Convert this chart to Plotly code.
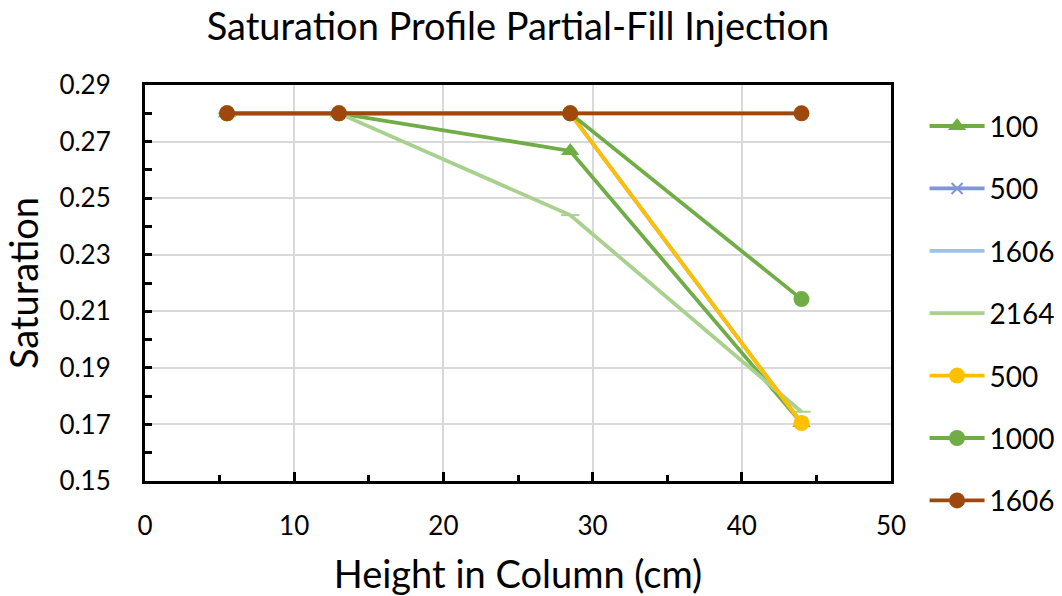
import plotly.graph_objects as go

heights = [5.5, 13, 28.5, 44]

series_names = ["100", "500", "1606", "2164", "500", "1000", "1606"]
s100 = [0.28, 0.28, 0.2667, 0.1705]
s500a = [0.28, 0.28, 0.28, 0.1705]
s1606a = [0.28, 0.28, 0.28, 0.28]
s2164 = [0.28, 0.28, 0.244, 0.1745]
s500b = [0.28, 0.28, 0.28, 0.1705]
s1000 = [0.28, 0.28, 0.28, 0.2143]
s1606b = [0.28, 0.28, 0.28, 0.28]

series_values = [s100, s500a, s1606a, s2164, s500b, s1000, s1606b]
colors = ["#70AD47", "#7F96D6", "#9DC3E6", "#A9D18E", "#FFC000", "#70AD47", "#9E480E"]
symbols = ["triangle-up", "x-thin", None, "line-ew", "circle", "circle", "circle"]
msizes = [16, 11, 0, 13, 16, 16, 16]

FONT = "Lato"

fig = go.Figure()
for i, (name, vals) in enumerate(zip(series_names, series_values)):
    sym = symbols[i]
    if sym is None:
        mode = "lines"
        marker = dict()
    else:
        mode = "lines+markers"
        marker = dict(symbol=sym, size=msizes[i], color=colors[i],
                      line=dict(color=colors[i], width=2 if sym in ("x-thin", "line-ew") else 0))
    fig.add_trace(go.Scatter(
        x=heights, y=vals, name=name, mode=mode,
        line=dict(color=colors[i], width=3.8),
        marker=marker,
        legendgroup="g%d" % i,
    ))

fig.update_layout(
    width=1062, height=596,
    margin=dict(l=145, r=171, t=85, b=115, autoexpand=False),
    paper_bgcolor="white", plot_bgcolor="white",
    font=dict(family=FONT, color="black", size=26),
    title=dict(text="Saturation Profile Partial-Fill Injection",
               x=0.5, xanchor="center", xref="paper",
               y=0.955, yanchor="middle", yref="container",
               font=dict(size=38, family=FONT, color="black")),
    legend=dict(x=1.045, xanchor="left", y=0.83, yanchor="top", yref="container",
                traceorder="grouped", tracegroupgap=23, maxheight=560,
                font=dict(size=28, family=FONT, color="black"),
                itemwidth=55, bgcolor="rgba(0,0,0,0)"),
    showlegend=True,
)

fig.update_xaxes(
    range=[0, 50], dtick=10, tick0=0,
    showgrid=True, gridcolor="#D9D9D9", gridwidth=1.5,
    showline=True, linecolor="black", linewidth=3, mirror=True,
    ticks="inside", ticklen=9, tickwidth=3, tickcolor="black",
    minor=dict(dtick=5, ticks="inside", ticklen=6, tickwidth=3, tickcolor="black", showgrid=False),
    zeroline=False,
    ticklabelstandoff=20,
    tickfont=dict(size=26, family=FONT),
    title=dict(text="Height in Column (cm)", font=dict(size=38, family=FONT), standoff=24),
)
fig.update_yaxes(
    range=[0.15, 0.29], dtick=0.02, tick0=0.15,
    tickformat=".2f",
    showgrid=True, gridcolor="#D9D9D9", gridwidth=1.5,
    showline=True, linecolor="black", linewidth=3, mirror=True,
    ticks="inside", ticklen=7, tickwidth=3, tickcolor="black",
    minor=dict(dtick=0.01, tick0=0.15, ticks="inside", ticklen=7, tickwidth=3, tickcolor="black", showgrid=False),
    zeroline=False,
    ticklabelstandoff=26,
    tickfont=dict(size=26, family=FONT),
    title=dict(text="Saturation", font=dict(size=38, family=FONT), standoff=12),
)

fig.write_html("out.html")
